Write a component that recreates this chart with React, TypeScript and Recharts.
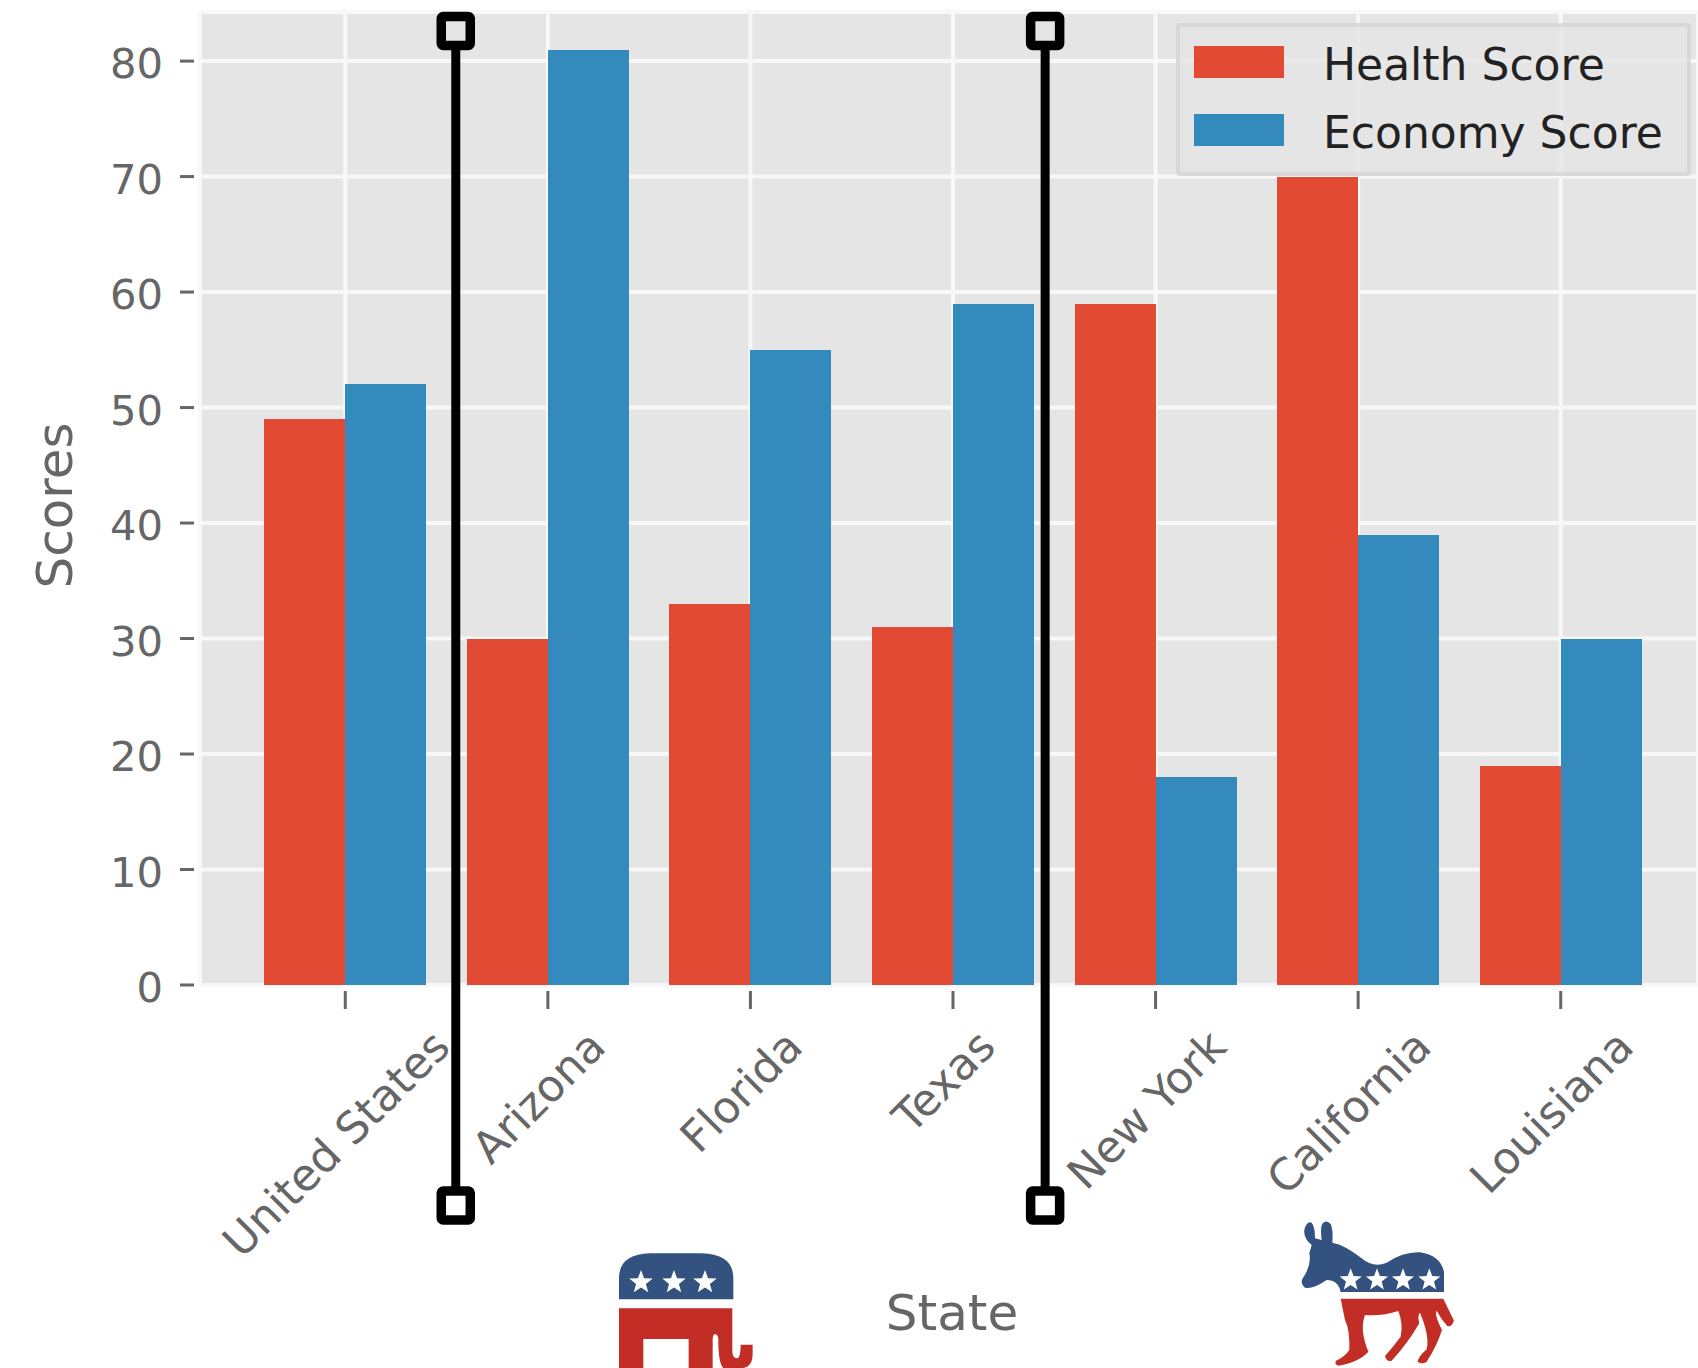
import React from 'react';
import { BarChart, Bar, XAxis, YAxis, CartesianGrid, Legend, ReferenceLine, ReferenceDot } from 'recharts';

const states = ['United States', 'Arizona', 'Florida', 'Texas', 'New York', 'California', 'Louisiana'];
const healthScores = [49, 30, 33, 31, 59, 70, 19];
const economyScores = [52, 81, 55, 59, 18, 39, 30];
const scoreTicks = [0, 10, 20, 30, 40, 50, 60, 70, 80];
// between which bars the black dividers stand, in category units
const dividers = [0.54, 3.45];

const chartData = states.map((name, i) => ({ name, health: healthScores[i], economy: economyScores[i] }));

const FONT = '"DejaVu Sans", sans-serif';
const TICK_SIZE = 41.7;
const STATE_SIZE = 44;
const AXIS_PADDING = { left: 44, right: 36 };
const DIVIDER_PADDING = { left: 146.4, right: 136.4 };

const canvas = document.createElement('canvas').getContext('2d');
function textWidth(text: string) {
  canvas.font = `${STATE_SIZE}px "DejaVu Sans"`;
  return canvas.measureText(text).width;
}

function ScoreTick({ x, y, payload }: any) {
  return (
    <g>
      <line x1={x - 18} x2={x - 4} y1={y} y2={y} stroke="#666" strokeWidth={3} />
      <text x={x - 35} y={y + 17} textAnchor="end" fontFamily={FONT} fontSize={TICK_SIZE} fill="#666">
        {payload.value}
      </text>
    </g>
  );
}

// rotated 45deg, centred under the tick, all tops on one line (as matplotlib does it)
function StateTick({ x, y, payload }: any) {
  const span = (textWidth(payload.value) + STATE_SIZE) * Math.SQRT1_2;
  const cx = x - 9;
  const cy = y + 36 + span / 2;
  return (
    <g>
      <line x1={x} x2={x} y1={y + 4} y2={y + 22} stroke="#666" strokeWidth={3} />
      <text
        x={cx}
        y={cy}
        dy={15}
        textAnchor="middle"
        transform={`rotate(-45 ${cx} ${cy})`}
        fontFamily={FONT}
        fontSize={STATE_SIZE}
        fill="#666"
      >
        {payload.value}
      </text>
    </g>
  );
}

function ScoreLegend({ payload }: any) {
  return (
    <div style={{ width: 515, height: 153, boxSizing: 'border-box', border: '4px solid rgba(204,204,204,0.5)', borderRadius: 4, background: 'rgba(229,229,229,0.8)', position: 'relative' }}>
      {(payload || []).map((item: any, i: number) => (
        <div key={item.value}>
          <div style={{ position: 'absolute', left: 14, top: 19 + i * 68, width: 90, height: 32, background: item.color }} />
          <div style={{ position: 'absolute', left: 143, top: 12 + i * 68, fontFamily: FONT, fontSize: 44, lineHeight: '52px', color: '#222', whiteSpace: 'nowrap' }}>
            {item.value}
          </div>
        </div>
      ))}
    </div>
  );
}

function SquareMarker({ cx, cy }: any) {
  return <rect x={cx - 14.5} y={cy - 14.5} width={29} height={29} rx={2} fill="none" stroke="#000" strokeWidth={9.5} />;
}

function Star({ x, y, r }: { x: number; y: number; r: number }) {
  const pts = [];
  for (let i = 0; i < 10; i++) {
    const a = (Math.PI / 5) * i - Math.PI / 2;
    const d = i % 2 ? r * 0.42 : r;
    pts.push(`${x + d * Math.cos(a)},${y + d * Math.sin(a)}`);
  }
  return <polygon points={pts.join(' ')} fill="#fff" />;
}

function Elephant() {
  return (
    <g transform="translate(560 1150) scale(0.3333)">
      <path d="M177,448 L177,385 Q177,312 270,310 L425,310 Q520,312 520,385 L520,448 Z" fill="#34527f" />
      <Star x={243} y={397} r={37} />
      <Star x={342} y={397} r={37} />
      <Star x={435} y={397} r={37} />
      <path
        d="M177,475 H517 V600 Q517,625 530,625 Q542,625 542,584 H578 V610 Q578,654 545,654 H490 Q475,640 475,570 Q475,553 465,553 Q458,553 458,570 V654 H386 V567 H250 V654 H177 Z"
        fill="#c22d26"
      />
    </g>
  );
}

function Donkey() {
  return (
    <g transform="translate(1270 1190) scale(0.3333)">
      <path
        d="M125,165 Q100,145 103,120 Q110,92 125,98 Q135,110 135,145 L155,150 Q150,110 158,100 Q170,88 182,102 Q190,120 187,158 Q225,165 275,205 Q310,235 350,218 Q400,185 450,187 Q510,195 522,245 L522,306 L212,306 Q205,270 170,270 Q125,300 105,293 Q88,280 100,262 Q125,225 118,190 Z"
        fill="#34527f"
      />
      <Star x={242} y={270} r={35} />
      <Star x={321} y={270} r={35} />
      <Star x={399} y={270} r={35} />
      <Star x={478} y={270} r={35} />
      <path
        d="M212,326 L520,326 L552,392 Q545,412 532,408 Q515,390 500,362 Q492,372 516,420 Q500,470 470,515 Q455,525 443,515 Q445,500 470,478 Q480,440 450,368 Q442,375 448,400 Q410,465 365,512 Q350,518 345,498 Q370,470 392,440 Q400,400 385,363 Q340,378 285,375 Q268,420 295,485 Q270,515 205,527 Q192,522 198,512 Q225,500 238,480 Q240,420 225,390 Z"
        fill="#c22d26"
      />
    </g>
  );
}

export default function App() {
  return (
    <div style={{ position: 'absolute', left: 0, top: 0, width: 1698, height: 1368, overflow: 'hidden', background: '#fff' }}>
      <BarChart
        width={1698}
        height={1368}
        data={chartData}
        margin={{ top: 12, right: 0, bottom: 0, left: 0 }}
        barCategoryGap="10%"
        barGap={0}
      >
        <CartesianGrid fill="#e5e5e5" fillOpacity={1} stroke="#f8f8f8" strokeWidth={4} />
        <XAxis
          dataKey="name"
          height={383}
          interval={0}
          padding={AXIS_PADDING}
          axisLine={false}
          tickLine={false}
          tickSize={0}
          tick={<StateTick />}
          label={{ value: 'State', position: 'insideBottom', offset: 38, dx: 3, fontFamily: FONT, fontSize: 50, fill: '#666' }}
        />
        <XAxis xAxisId="pos" type="number" domain={[0, 6]} allowDataOverflow padding={DIVIDER_PADDING} hide />
        <YAxis
          width={200}
          domain={[0, 84.25]}
          ticks={scoreTicks}
          axisLine={false}
          tickLine={false}
          tickSize={0}
          tick={<ScoreTick />}
          label={{ value: 'Scores', angle: -90, position: 'insideLeft', offset: 61, dx: -7, dy: 7, textAnchor: 'middle', fontFamily: FONT, fontSize: 50, fill: '#666' }}
        />
        <Legend
          layout="horizontal"
          align="center"
          verticalAlign="middle"
          itemSorter={null}
          wrapperStyle={{ left: 1176, top: 23, width: 515, height: 153 }}
          content={<ScoreLegend />}
        />
        <Bar dataKey="health" name="Health Score" fill="#e24a33" shapeRendering="crispEdges" isAnimationActive={false} />
        <Bar dataKey="economy" name="Economy Score" fill="#348abd" shapeRendering="crispEdges" isAnimationActive={false} />
        {dividers.map((d) => (
          <ReferenceLine
            key={d}
            xAxisId="pos"
            segment={[{ x: d, y: 81 }, { x: d, y: -17.5 }]}
            ifOverflow="visible"
            stroke="#000"
            strokeWidth={9}
          />
        ))}
        {dividers.map((d) => (
          <ReferenceDot key={`top-${d}`} xAxisId="pos" x={d} y={82.6} ifOverflow="visible" shape={<SquareMarker />} />
        ))}
        {dividers.map((d) => (
          <ReferenceDot key={`bottom-${d}`} xAxisId="pos" x={d} y={-19.1} ifOverflow="visible" shape={<SquareMarker />} />
        ))}
        <Elephant />
        <Donkey />
      </BarChart>
    </div>
  );
}
